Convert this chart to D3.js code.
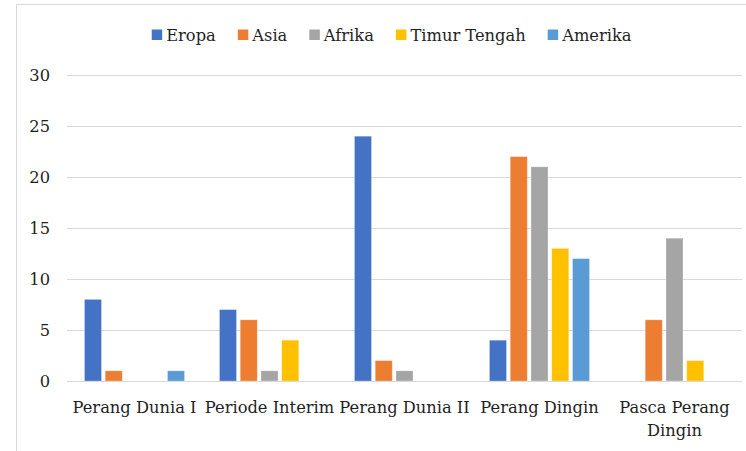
<!DOCTYPE html>
<html>
<head>
<meta charset="utf-8">
<script src="https://cdn.jsdelivr.net/npm/d3@7"></script>
<style>
  html, body { margin: 0; padding: 0; background: #fff; }
  svg { display: block; }
  text { font-family: "DejaVu Serif", serif; fill: #1f1f1f; }
</style>
</head>
<body>
<svg id="chart" width="746" height="451"></svg>
<script>
const categories = ["Perang Dunia I", "Periode Interim", "Perang Dunia II", "Perang Dingin", "Pasca Perang Dingin"];
const seriesNames = ["Eropa", "Asia", "Afrika", "Timur Tengah", "Amerika"];
const eropa = [8, 7, 24, 4, 0];
const asia = [1, 6, 2, 22, 6];
const afrika = [0, 1, 1, 21, 14];
const timurTengah = [0, 4, 0, 13, 2];
const amerika = [1, 0, 0, 12, 0];
const yTicks = [0, 5, 10, 15, 20, 25, 30];
const colors = ["#4472C4", "#ED7D31", "#A5A5A5", "#FFC000", "#5B9BD5"];

const seriesValues = [eropa, asia, afrika, timurTengah, amerika];
const data = categories.map((c, i) => ({
  category: c,
  values: seriesNames.map((s, j) => ({ key: s, value: seriesValues[j][i] }))
}));

const svg = d3.select("#chart");
const W = 746, H = 451;
const FS = "16.3px";
const margin = { left: 67, top: 75 };
const plotRight = 742, plotBottom = 381;

// outer border (chart area frame, cropped at right/bottom)
svg.append("rect")
  .attr("x", 16.5).attr("y", 4.5)
  .attr("width", W + 20).attr("height", H + 20)
  .attr("fill", "none").attr("stroke", "#d9d9d9").attr("stroke-width", 1);

const x0 = d3.scaleBand().domain(categories).range([margin.left, plotRight])
  .paddingInner(0.231).paddingOuter(0.1155);
const x1 = d3.scaleBand().domain(seriesNames).range([0, x0.bandwidth()])
  .paddingInner(0.18).paddingOuter(0.09);
const y = d3.scaleLinear().domain([0, 30]).range([plotBottom, margin.top]);
const color = d3.scaleOrdinal().domain(seriesNames).range(colors);

// gridlines
const yAxis = d3.axisLeft(y).tickValues(yTicks).tickSize(-(plotRight - margin.left)).tickPadding(17);
const gy = svg.append("g").attr("transform", `translate(${margin.left},0)`).call(yAxis);
gy.select(".domain").remove();
gy.selectAll(".tick line").attr("stroke", "#d9d9d9").attr("stroke-width", 1);
gy.selectAll(".tick text")
  .style("font-family", '"DejaVu Serif", serif')
  .style("font-size", FS)
  .attr("fill", "#1f1f1f");

// bars
const groups = svg.append("g").selectAll("g").data(data).join("g")
  .attr("transform", d => `translate(${x0(d.category)},0)`);
groups.selectAll("rect").data(d => d.values).join("rect")
  .attr("x", d => x1(d.key))
  .attr("y", d => y(d.value))
  .attr("width", x1.bandwidth())
  .attr("height", d => y(0) - y(d.value))
  .attr("fill", d => color(d.key))
  .attr("stroke", "#ffffff").attr("stroke-opacity", 0.35).attr("stroke-width", 0.8)
  .style("display", d => d.value > 0 ? null : "none");

// x axis
const xAxis = d3.axisBottom(x0).tickSize(0).tickPadding(0);
const gx = svg.append("g").attr("transform", `translate(0,${plotBottom})`).call(xAxis);
gx.select(".domain").attr("stroke", "#d9d9d9");
gx.selectAll(".tick text")
  .style("font-family", '"DejaVu Serif", serif')
  .style("font-size", FS)
  .attr("fill", "#1f1f1f")
  .attr("dy", null)
  .attr("y", 32)
  .call(wrap, 150);

function wrap(texts, width) {
  texts.each(function() {
    const text = d3.select(this);
    const words = text.text().split(/\s+/);
    const yPos = +text.attr("y");
    text.text(null);
    let line = [];
    let lineNum = 0;
    let tspan = text.append("tspan").attr("x", 0).attr("y", yPos);
    for (const w of words) {
      line.push(w);
      tspan.text(line.join(" "));
      if (tspan.node().getComputedTextLength() > width && line.length > 1) {
        line.pop();
        tspan.text(line.join(" "));
        line = [w];
        lineNum++;
        tspan = text.append("tspan").attr("x", 0).attr("y", yPos + lineNum * 22.5).text(w);
      }
    }
  });
}

// legend
const legend = svg.append("g");
let lx = 151.7;
seriesNames.forEach((s, i) => {
  const g = legend.append("g");
  g.append("rect").attr("x", lx).attr("y", 29.5).attr("width", 10.5).attr("height", 10.5).attr("fill", colors[i]);
  const t = g.append("text").attr("x", lx + 14.5).attr("y", 41)
    .style("font-size", FS).text(s);
  lx += 14.5 + t.node().getComputedTextLength() + 22;
});
</script>
</body>
</html>
